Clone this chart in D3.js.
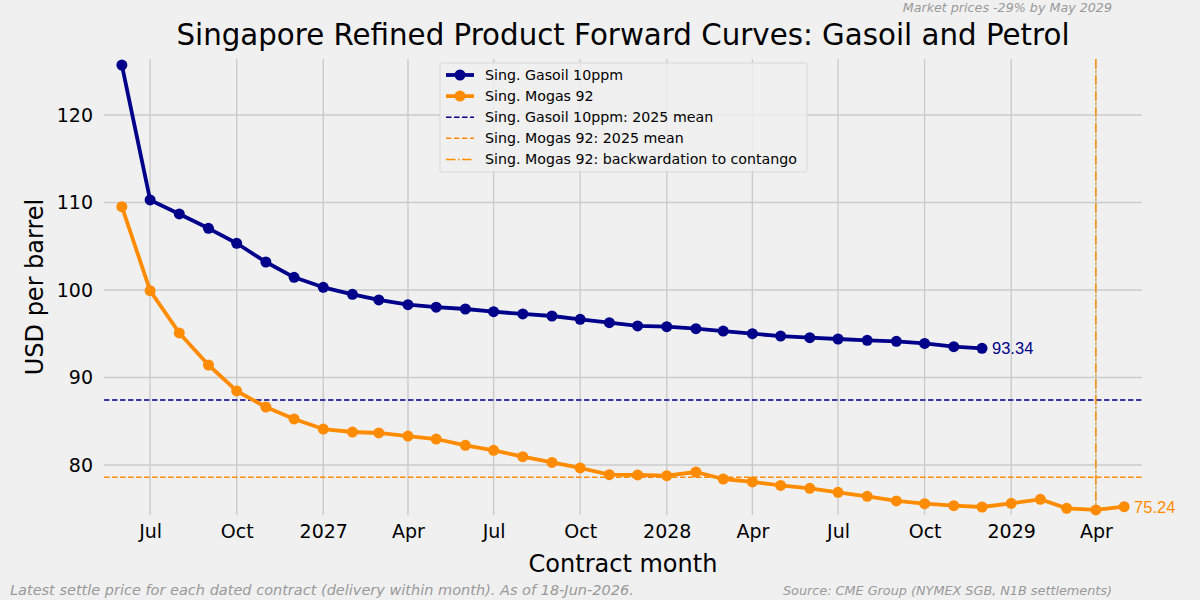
<!DOCTYPE html>
<html>
<head>
<meta charset="utf-8">
<script src="https://cdn.jsdelivr.net/npm/d3@7"></script>
<style>
  body { margin: 0; background: #f0f0f0; }
  svg { display: block; font-family: "DejaVu Sans", sans-serif; }
  .grid line { stroke: #cbcbcb; stroke-width: 1.4px; }
  .axis text { font-size: 19px; fill: #000; font-family: "DejaVu Sans", sans-serif; }
  .axis path, .axis line { display: none; }
  .note { fill: #999; font-style: italic; }
  .legend text { font-size: 14.2px; fill: #000; }
</style>
</head>
<body>
<svg id="chart" width="1200" height="600"></svg>
<script>
// contract months (1st of month) and settle prices, USD/bbl
const gasoilMonths = d3.timeMonths(new Date(2026, 5, 1), new Date(2029, 0, 1));
const gasoilPrices = [125.71, 110.29, 108.69, 107.05, 105.34, 103.2, 101.45,
  100.31, 99.51, 98.86, 98.32, 98.04, 97.83, 97.52, 97.26, 97.03, 96.65, 96.27, 95.89,
  95.81, 95.58, 95.31, 95.01, 94.73, 94.55, 94.4, 94.25, 94.13, 93.9, 93.52, 93.34];

const mogasMonths = d3.timeMonths(new Date(2026, 5, 1), new Date(2029, 5, 1));
const mogasPrices = [109.52, 99.92, 95.09, 91.43, 88.46, 86.63, 85.26,
  84.11, 83.77, 83.66, 83.31, 82.97, 82.25, 81.68, 80.95, 80.3, 79.66, 78.89, 78.86,
  78.78, 79.2, 78.4, 78.06, 77.67, 77.33, 76.88, 76.42, 75.89, 75.58, 75.35, 75.2,
  75.62, 76.08, 75.05, 74.86, 75.24];

const gasoilMean2025 = 87.43;
const mogasMean2025 = 78.59;
const mogasCrossover = new Date(2029, 3, 1);

const xTicks = d3.timeMonths(new Date(2026, 6, 1), new Date(2029, 4, 1), 3);
const yTicks = [80, 90, 100, 110, 120];

const navy = '#00008b';
const orange = '#ff8c00';

const svg = d3.select('#chart');
const plot = { left: 104, right: 1142, top: 59, bottom: 515 };

const x = d3.scaleTime()
  .domain([new Date(2026, 4, 13), new Date(2029, 4, 20)])
  .range([plot.left, plot.right]);
const y = d3.scaleLinear()
  .domain([74.286, 126.4])
  .range([plot.bottom, plot.top]);

// grid
const grid = svg.append('g').attr('class', 'grid');
grid.selectAll('.gx')
  .data(xTicks)
  .join('line')
  .attr('x1', (d) => x(d)).attr('x2', (d) => x(d))
  .attr('y1', plot.top).attr('y2', plot.bottom);
grid.selectAll('.gy')
  .data(yTicks)
  .join('line')
  .attr('x1', plot.left).attr('x2', plot.right)
  .attr('y1', (d) => y(d)).attr('y2', (d) => y(d));

// axes
const fmt = (d) => (d.getMonth() === 0 ? d3.timeFormat('%Y')(d) : d3.timeFormat('%b')(d));
svg.append('g')
  .attr('class', 'axis')
  .attr('transform', `translate(0,${plot.bottom})`)
  .call(d3.axisBottom(x).tickValues(xTicks).tickFormat(fmt).tickSize(0).tickPadding(10));
svg.append('g')
  .attr('class', 'axis')
  .attr('transform', `translate(${plot.left},0)`)
  .call(d3.axisLeft(y).tickValues(yTicks).tickSize(0).tickPadding(11));

// mean lines
svg.append('line')
  .attr('x1', plot.left).attr('x2', plot.right)
  .attr('y1', y(gasoilMean2025)).attr('y2', y(gasoilMean2025))
  .style('stroke', navy).style('stroke-width', 1.5).style('stroke-dasharray', '5.5,2.5');
svg.append('line')
  .attr('x1', plot.left).attr('x2', plot.right)
  .attr('y1', y(mogasMean2025)).attr('y2', y(mogasMean2025))
  .style('stroke', orange).style('stroke-width', 1.5).style('stroke-dasharray', '5.5,2.5');

// crossover line
svg.append('line')
  .attr('x1', x(mogasCrossover)).attr('x2', x(mogasCrossover))
  .attr('y1', plot.top).attr('y2', plot.bottom)
  .style('stroke', orange).style('stroke-width', 1.5).style('stroke-dasharray', '9.5,2.5,1.5,2.5');

// series
const series = [
  { months: gasoilMonths, prices: gasoilPrices, color: navy },
  { months: mogasMonths, prices: mogasPrices, color: orange },
];
const line = d3.line().x((d) => x(d[0])).y((d) => y(d[1]));
series.forEach((s) => {
  const pts = s.months.map((m, i) => [m, s.prices[i]]);
  svg.append('path')
    .datum(pts)
    .attr('d', line)
    .style('fill', 'none')
    .style('stroke', s.color)
    .style('stroke-width', 3.8)
    .style('stroke-linejoin', 'round');
  svg.append('g')
    .selectAll('circle')
    .data(pts)
    .join('circle')
    .attr('cx', (d) => x(d[0]))
    .attr('cy', (d) => y(d[1]))
    .attr('r', 5.5)
    .style('fill', s.color);
  const last = pts[pts.length - 1];
  svg.append('text')
    .attr('x', x(last[0]) + 10)
    .attr('y', y(last[1]))
    .attr('dy', '0.36em')
    .style('font-family', '"Liberation Sans", Arial, sans-serif')
    .style('font-size', '16.5px')
    .style('fill', s.color)
    .text(last[1].toFixed(2));
});

// titles
svg.append('text')
  .attr('x', (plot.left + plot.right) / 2)
  .attr('y', 45)
  .attr('text-anchor', 'middle')
  .style('font-size', '29.3px')
  .text('Singapore Refined Product Forward Curves: Gasoil and Petrol');
svg.append('text')
  .attr('x', (plot.left + plot.right) / 2)
  .attr('y', 572)
  .attr('text-anchor', 'middle')
  .style('font-size', '24px')
  .text('Contract month');
svg.append('text')
  .attr('transform', `translate(43,${(plot.top + plot.bottom) / 2}) rotate(-90)`)
  .attr('text-anchor', 'middle')
  .style('font-size', '24px')
  .text('USD per barrel');

svg.append('text').attr('class', 'note')
  .attr('x', 1112).attr('y', 12).attr('text-anchor', 'end')
  .style('font-size', '12.7px')
  .text('Market prices -29% by May 2029');
svg.append('text').attr('class', 'note')
  .attr('x', 10).attr('y', 595)
  .style('font-size', '14.5px')
  .text('Latest settle price for each dated contract (delivery within month). As of 18-Jun-2026.');
svg.append('text').attr('class', 'note')
  .attr('x', 1112).attr('y', 595).attr('text-anchor', 'end')
  .style('font-size', '12.8px')
  .text('Source: CME Group (NYMEX SGB, N1B settlements)');

// legend
const legendItems = [
  { label: 'Sing. Gasoil 10ppm', color: navy, kind: 'marker' },
  { label: 'Sing. Mogas 92', color: orange, kind: 'marker' },
  { label: 'Sing. Gasoil 10ppm: 2025 mean', color: navy, kind: 'dash' },
  { label: 'Sing. Mogas 92: 2025 mean', color: orange, kind: 'dash' },
  { label: 'Sing. Mogas 92: backwardation to contango', color: orange, kind: 'dashdot' },
];
const legend = svg.append('g').attr('class', 'legend').attr('transform', 'translate(440,63)');
legend.append('rect')
  .attr('width', 367).attr('height', 109).attr('rx', 2)
  .style('fill', '#f0f0f0').style('fill-opacity', 0.8)
  .style('stroke', '#d8d8d8').style('stroke-width', 1);
legendItems.forEach((d, i) => {
  const ly = 12 + 21.1 * i;
  const dash = d.kind === 'dash' ? '5.5,2.5' : (d.kind === 'dashdot' ? '9.5,2.5,1.5,2.5' : null);
  legend.append('line')
    .attr('x1', 6).attr('x2', 34).attr('y1', ly).attr('y2', ly)
    .style('stroke', d.color)
    .style('stroke-width', d.kind === 'marker' ? 3.8 : 1.5)
    .style('stroke-dasharray', dash);
  if (d.kind === 'marker') {
    legend.append('circle').attr('cx', 20).attr('cy', ly).attr('r', 5.5).style('fill', d.color);
  }
  legend.append('text')
    .attr('x', 45).attr('y', ly).attr('dy', '0.35em')
    .text(d.label);
});
</script>
</body>
</html>
